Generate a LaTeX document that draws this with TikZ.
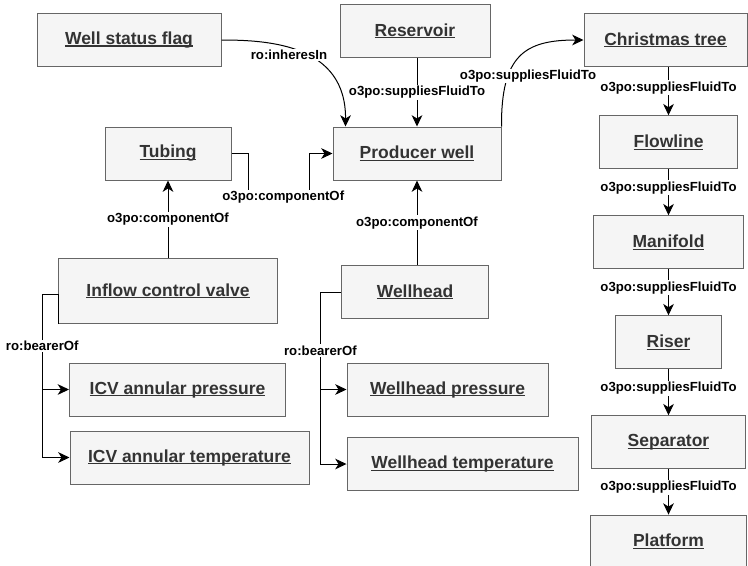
\documentclass[tikz,border=0pt]{standalone}
\usepackage{fontspec}
\setmainfont{Liberation Sans}
\usetikzlibrary{arrows.meta}
\usetikzlibrary{positioning}

\definecolor{boxfill}{HTML}{F5F5F5}
\definecolor{boxline}{HTML}{666666}
\definecolor{boxtext}{HTML}{333333}
\newcommand{\ulbl}[1]{\setbox0=\hbox{#1}\rlap{\rule[-1.6pt]{\wd0}{0.85pt}}\box0}

\tikzset{
  entity/.style={draw=boxline, line width=0.75pt, fill=boxfill, text=boxtext,
    font=\fontsize{13.1}{15}\selectfont\bfseries, minimum height=39.75pt, inner sep=0pt},
  rel/.style={font=\fontsize{9.9}{11}\selectfont\bfseries, fill=white, inner sep=1pt, text=black},
  link/.style={draw=black, line width=0.75pt, -{Stealth[length=8.5pt,width=8pt,inset=2.5pt]}}
}

\begin{document}
\begin{tikzpicture}[x=0.75pt, y=-0.75pt]
            \useasboundingbox (0,0) rectangle (748,565);
            \node[entity, minimum width=138pt] (flag) at (129,40) {\ulbl{Well status flag}};
            \node[entity, minimum width=112.5pt] (reservoir) at (415,31) {\ulbl{Reservoir}};
            \node[entity, minimum width=122.25pt] (xmastree) at (665.5,40) {\ulbl{Christmas tree}};
            \node[entity, minimum width=94.5pt] (tubing) at (168,153.5) {\ulbl{Tubing}};
            \node[entity, minimum width=126pt] (producer) at (417,153.5) {\ulbl{Producer well}};
            \node[entity, minimum width=164.25pt, minimum height=48.75pt] (icv) at (168,291) {\ulbl{Inflow control valve}};
            \node[entity, minimum width=110.25pt] (wellhead) at (415,292) {\ulbl{Wellhead}};
            \node[entity, minimum width=162pt] (icvpres) at (177.5,389.5) {\ulbl{ICV annular pressure}};
            \node[entity, minimum width=179.25pt] (icvtemp) at (189.5,457.5) {\ulbl{ICV annular temperature}};
            \node[entity, minimum width=150.75pt] (whpres) at (447.5,389.5) {\ulbl{Wellhead pressure}};
            \node[entity, minimum width=173.25pt] (whtemp) at (462.5,464) {\ulbl{Wellhead temperature}};
            \node[entity, minimum width=103.5pt, below=36.2pt of xmastree, xshift=2.25pt] (flowline) {\ulbl{Flowline}};
            \node[entity, minimum width=112.5pt, below=34.5pt of flowline] (manifold) {\ulbl{Manifold}};
            \node[entity, minimum width=79.5pt, below=34.5pt of manifold] (riser) {\ulbl{Riser}};
            \node[entity, minimum width=115.5pt, below=34.5pt of riser] (separator) {\ulbl{Separator}};
            \node[entity, minimum width=117pt, below=34pt of separator] (platform) {\ulbl{Platform}};

            \draw[link] (flag.east) .. controls (270,40) and (346,45) .. ([xshift=9.75pt]producer.north west)
              node[rel] at (289,55) {ro:inheresIn};
            \draw[link] (reservoir.south -| producer.north) -- node[rel] {o3po:suppliesFluidTo} (producer.north);
            \draw[link] (producer.north east) .. controls (501,55) and (525,40) .. (xmastree.west)
              node[rel] at (528,76) {o3po:suppliesFluidTo};
            \draw[link] (xmastree.south -| flowline.north) -- node[rel, pos=0.43] {o3po:suppliesFluidTo} (flowline.north);
            \draw[link] (flowline.south) -- node[rel, pos=0.4] {o3po:suppliesFluidTo} (manifold.north);
            \draw[link] (manifold.south) -- node[rel, pos=0.4] {o3po:suppliesFluidTo} (riser.north);
            \draw[link] (riser.south) -- node[rel, pos=0.41] {o3po:suppliesFluidTo} (separator.north);
            \draw[link] (separator.south) -- node[rel, pos=0.4] {o3po:suppliesFluidTo} (platform.north);

            \draw[link] (tubing.east) -- ++(17,0) -- ++(0,43.5) -- node[rel, pos=0.57] {o3po:componentOf} ++(61,0) |- (producer.west);
            \draw[link] (icv.north) -- node[rel] {o3po:componentOf} (tubing.south);
            \draw[link] (wellhead.north -| producer.south) -- node[rel] {o3po:componentOf} (producer.south);

            \draw[link] (icv.south west) -- ++(0,-29.6) -- ++(-15.7,0) coordinate (icvfork) |- (icvtemp.west);
            \draw[link] (icvfork) |- node[rel, pos=0.27] {ro:bearerOf} (icvpres.west);
            \draw[link] (wellhead.west) -- ++(-20.6,0) coordinate (whfork) |- (whtemp.west);
            \draw[link] (whfork) |- node[rel, pos=0.3] {ro:bearerOf} (whpres.west);
        \end{tikzpicture}
\end{document}
